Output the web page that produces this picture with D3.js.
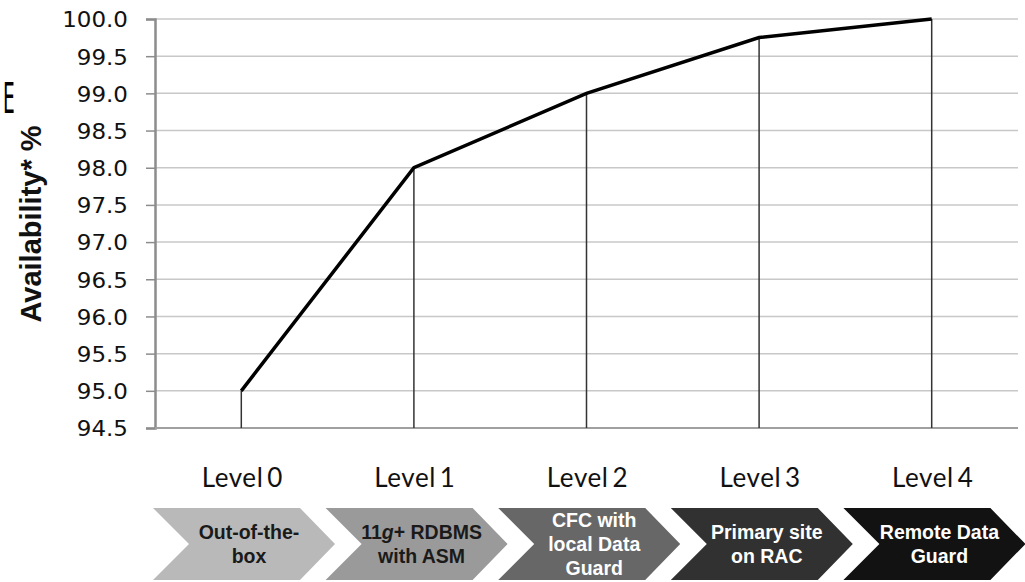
<!DOCTYPE html>
<html><head><meta charset="utf-8">
<script src="https://cdn.jsdelivr.net/npm/d3@7"></script>
<style>body{margin:0;background:#fff;} svg{display:block;}</style>
</head><body>
<svg id="c" width="1025" height="582"></svg>
<script>
const categories = ["Level 0","Level 1","Level 2","Level 3","Level 4"];
const availability = [95.0, 98.0, 99.0, 99.75, 100.0];
const yTicks = [94.5,95.0,95.5,96.0,96.5,97.0,97.5,98.0,98.5,99.0,99.5,100.0];
const stageLabels = [["Out-of-the-","box"],["11g+ RDBMS","with ASM"],["CFC with","local Data","Guard"],["Primary site","on RAC"],["Remote Data","Guard"]];

const svg = d3.select("#c");
const L = 155, R = 1018, T = 19, B = 428;
const x = d3.scaleBand().domain(categories).range([L, R]);
const y = d3.scaleLinear().domain([94.5, 100]).range([B, T]);
const cx = d => x(d) + x.bandwidth()/2;

// gridlines
svg.append("g").selectAll("line").data(yTicks.slice(1)).join("line")
  .attr("x1", L).attr("x2", R).attr("y1", d=>y(d)).attr("y2", d=>y(d))
  .attr("stroke", "#c8c8c8").attr("stroke-width", 1.5);

// y axis
const ya = svg.append("g").attr("transform", `translate(${L},0)`)
  .call(d3.axisLeft(y).tickValues(yTicks).tickFormat(d3.format(".1f")).tickSize(9).tickPadding(18));
ya.select(".domain").attr("stroke", "#8c8c8c").attr("stroke-width", 2.5);
ya.selectAll(".tick line").attr("stroke", "#8c8c8c").attr("stroke-width", 1.5);
ya.selectAll(".tick text").attr("font-family", "DejaVu Sans").attr("font-size", 23).attr("fill", "#111")
  .attr("transform", "scale(1,0.95)").attr("dy", "0.36em");

// x axis line
svg.append("line").attr("x1", L).attr("x2", R).attr("y1", B).attr("y2", B)
  .attr("stroke", "#a0a0a0").attr("stroke-width", 2);

// drop lines
svg.append("g").selectAll("line").data(categories).join("line")
  .attr("x1", d=>cx(d)).attr("x2", d=>cx(d))
  .attr("y1", (d,i)=>y(availability[i])).attr("y2", B)
  .attr("stroke", "#333").attr("stroke-width", 1.5);

// series line
svg.append("path").datum(availability)
  .attr("d", d3.line().x((d,i)=>cx(categories[i])).y(d=>y(d)))
  .attr("fill", "none").attr("stroke", "#000").attr("stroke-width", 3.5).attr("stroke-linejoin", "miter");

// y title
svg.append("text").attr("transform", "translate(41,224) rotate(-90)")
  .attr("text-anchor", "middle").attr("font-family", "Liberation Sans").attr("font-weight", "bold")
  .attr("font-size", 29).attr("fill", "#111").text("Availability* %");

// stray glyph
svg.append("text").attr("x", 6).attr("y", 113).attr("font-family", "DejaVu Sans Condensed")
  .attr("font-size", 43).attr("fill", "#000").attr("transform","scale(0.48,1)").text("E");

// level labels
svg.append("g").selectAll("text").data(categories).join("text")
  .attr("x", d=>cx(d)+1).attr("y", 487).attr("text-anchor", "middle")
  .attr("font-family", "Lato").attr("font-size", 26).attr("fill", "#111")
  .attr("letter-spacing", 0.6)
  .text(d=>d.replace(" ", "\u2009"));

// chevrons
const fills = ["#b9b9b9","#9a9a9a","#676767","#313131","#121212"];
const textFill = ["#1a1a1a","#1a1a1a","#fff","#fff","#fff"];
const cT = 508, cB = 580, cM = 544;
const chev = svg.append("g");
categories.forEach((c,i)=>{
  const l = x(c) - 2;
  const pts = [[l,cT],[l+147,cT],[l+182,cM],[l+147,cB],[l,cB],[l+36,cM]];
  chev.append("polygon").attr("points", pts.map(p=>p.join(",")).join(" ")).attr("fill", fills[i]);
  const lines = stageLabels[i];
  const lh = 24, start = cM - (lines.length-1)*lh/2 + 7;
  const t = chev.append("text").attr("text-anchor","middle").attr("font-family","Liberation Sans")
    .attr("font-weight","bold").attr("font-size",19.5).attr("fill",textFill[i]);
  lines.forEach((ln,j)=>{
    const ts = t.append("tspan").attr("x", l+96).attr("y", start + j*lh);
    if (ln.startsWith("11g")) {
      ts.text("11");
      t.append("tspan").attr("font-style","italic").text("g");
      t.append("tspan").text("+ RDBMS");
    } else ts.text(ln);
  });
});
</script>
</body></html>
